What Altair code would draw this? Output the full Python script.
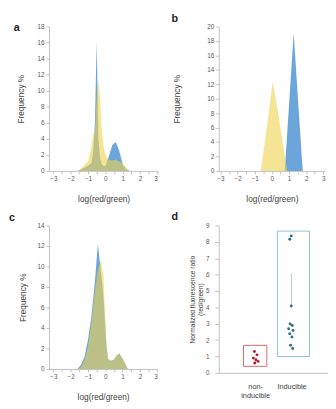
import altair as alt
import pandas as pd

# ---------------- data ----------------
# panel a
a_x = [-3, -1.6, -1.3, -1.0, -0.8, -0.7, -0.6, -0.5, -0.4, -0.3, -0.2, -0.1, 0.0, 0.2, 0.4, 0.6, 0.8, 1.0, 1.2, 1.4, 3]
a_blue = [0, 0, 0.3, 0.6, 1.0, 2.5, 6.0, 16.2, 4.0, 1.5, 0.8, 0.6, 0.6, 1.8, 3.2, 3.6, 2.5, 0.8, 0.2, 0, 0]
a_yellow = [0, 0, 0.5, 1.2, 3.0, 4.6, 5.0, 9.0, 11.5, 9.0, 5.0, 3.0, 2.0, 1.4, 1.3, 1.4, 1.2, 0.9, 0.4, 0, 0]

# panel b
b_x = [-3, -0.65, -0.3, 0.05, 0.4, 0.75, 0.9, 1.27, 1.55, 1.8, 3]
b_blue = [0, 0, 0, 0, 0, 0, 5.5, 19.1, 8.8, 0, 0]
b_yellow = [0, 0, 6.0, 12.4, 7.5, 2.0, 0, 0, 0, 0, 0]

# panel c
c_x = [-3, -1.6, -1.4, -1.2, -1.0, -0.8, -0.6, -0.43, -0.25, -0.1, 0.05, 0.15, 0.3, 0.5, 0.65, 0.8, 1.0, 1.3, 3]
c_blue = [0, 0, 0.4, 1.2, 2.8, 5.2, 8.5, 12.2, 9.5, 7.0, 2.6, 1.0, 0.8, 0.9, 1.3, 1.5, 1.0, 0, 0]
c_yellow = [0, 0, 0.2, 0.9, 2.2, 4.6, 7.6, 9.6, 10.6, 9.0, 3.0, 1.0, 0.8, 0.9, 1.3, 1.5, 1.0, 0, 0]

# panel d
d_groups = ["non-inducible", "inducible"]
d_group_pos = [1, 2]
d_box_x1 = [0.68, 1.61]
d_box_x2 = [1.32, 2.49]
d_box_y1 = [0.4, 1.0]
d_box_y2 = [1.68, 8.66]
red_x = [0.98, 1.05, 0.95, 1.02, 1.08, 0.99]
red_y = [1.3, 1.1, 0.9, 0.8, 0.7, 0.6]
blue_x = [1.99, 1.95, 1.99, 1.96, 2.02, 1.92, 2.04, 1.95, 2.01, 1.97, 2.03]
blue_y = [8.36, 8.16, 4.08, 2.99, 2.89, 2.69, 2.59, 2.39, 2.19, 1.69, 1.49]
whisker_y = [4.1, 6.1]

x_tick_values = [-3, -2.5, -2, -1.5, -1, -0.5, 0, 0.5, 1, 1.5, 2, 2.5, 3]
series = ["1 blue", "2 yellow"]

FONT = "Liberation Sans"
BLUE = "#5b9bd5"
YELLOW = "#f0d24e"
AX = "#bfbfbf"
LBL = "#595959"


def hist_panel(xs, blue, yellow, ymax, xdom, w, h, letter, ldx, ldy, tx):
    df = pd.DataFrame({
        "x": list(xs) + list(xs),
        "v": list(blue) + list(yellow),
        "s": [series[0]] * len(xs) + [series[1]] * len(xs),
    })
    xax = alt.Axis(values=x_tick_values,
                   labelExpr="abs(datum.value % 1) < 0.01 ? format(datum.value, '.0f') : ''",
                   title="log(red/green)", titleX=w / 2, titleY=28, titleBaseline="middle",
                   tickSize=3, labelPadding=2, grid=False, labelOverlap=False, labelBound=False)
    yax = alt.Axis(values=list(range(0, ymax + 1, 2)), title="Frequency %", titleX=tx,
                   titleY=h / 2, titleAngle=-90, titleBaseline="middle", titleAlign="center",
                   tickSize=3, labelPadding=2, grid=False, labelOverlap=False, labelBound=False)
    areas = alt.Chart(df).mark_area(interpolate="linear").encode(
        x=alt.X("x:Q", scale=alt.Scale(domain=xdom, nice=False, zero=False), axis=xax),
        y=alt.Y("v:Q", scale=alt.Scale(domain=[0, ymax], nice=False), axis=yax, stack=False),
        color=alt.Color("s:N", scale=alt.Scale(domain=series, range=[BLUE, YELLOW]), legend=None),
        opacity=alt.Opacity("s:N", scale=alt.Scale(domain=series, range=[0.9, 0.6]), legend=None),
        order=alt.Order("s:N"),
    )
    lt = alt.Chart(pd.DataFrame({"t": [letter]})).mark_text(
        fontWeight="bold", fontSize=11, font=FONT, color="#222222", align="center", baseline="middle"
    ).encode(text="t:N", x=alt.value(ldx), y=alt.value(ldy))
    return alt.layer(areas, lt).properties(width=w, height=h)


pa = hist_panel(a_x, a_blue, a_yellow, 18, [-3.25, 3.05], 112, 148, "a", -33, 2, -29)
pb = hist_panel(b_x, b_blue, b_yellow, 20, [-3.1, 3.1], 109, 148, "b", -45, -8, -43)
pc = hist_panel(c_x, c_blue, c_yellow, 14, [-3.25, 3.0], 111, 147, "c", -38, -8, -27)

# panel d
boxes = pd.DataFrame({"g": d_groups, "x1": d_box_x1, "x2": d_box_x2, "y1": d_box_y1, "y2": d_box_y2})
pts = pd.DataFrame({"x": red_x + blue_x, "y": red_y + blue_y,
                    "g": ["non-inducible"] * len(red_x) + ["inducible"] * len(blue_x)})
wh = pd.DataFrame({"x": [2, 2], "y": whisker_y})

dw, dh = 112, 151
dxs = alt.Scale(domain=[0, 3], nice=False)
dys = alt.Scale(domain=[0, 9], nice=False)
dxax = alt.Axis(values=d_group_pos,
                labelExpr="datum.value == 1 ? ['non-', 'inducible'] : 'Inducible'",
                ticks=False, labelPadding=14, labelBaseline="middle", labelFontSize=7.5,
                labelColor="#404040", title=None, grid=False, labelOverlap=False)
dyax = alt.Axis(values=list(range(0, 10)), title=["Normalized fluorescence ratio", "(red/green)"],
                titleX=-27, titleY=dh / 2, titleAngle=-90, titleAlign="center",
                titleBaseline="middle", titleFontSize=6.8, tickSize=4, labelPadding=6,
                grid=False, labelOverlap=False, labelBound=False)

box_layer = alt.Chart(boxes).mark_rect(fillOpacity=0, strokeWidth=1).encode(
    x=alt.X("x1:Q", scale=dxs, axis=dxax), x2="x2:Q",
    y=alt.Y("y1:Q", scale=dys, axis=dyax), y2="y2:Q",
    stroke=alt.Color("g:N", scale=alt.Scale(domain=d_groups, range=["#e06666", "#8fc0cf"]), legend=None))
wh_layer = alt.Chart(wh).mark_line(color="#9fb8c8", strokeWidth=0.8).encode(
    x=alt.X("x:Q", scale=dxs, axis=dxax), y=alt.Y("y:Q", scale=dys, axis=dyax))
pt_layer = alt.Chart(pts).mark_point(filled=True, size=9, opacity=1).encode(
    x=alt.X("x:Q", scale=dxs, axis=dxax), y=alt.Y("y:Q", scale=dys, axis=dyax),
    color=alt.Color("g:N", scale=alt.Scale(domain=d_groups, range=["#b01c2e", "#2f6f85"]), legend=None))
lt_d = alt.Chart(pd.DataFrame({"t": ["d"]})).mark_text(
    fontWeight="bold", fontSize=11, font=FONT, color="#222222", align="center", baseline="middle"
).encode(text="t:N", x=alt.value(-45), y=alt.value(-9))
pd_ = alt.layer(box_layer, wh_layer, pt_layer, lt_d).properties(width=dw, height=dh)

chart = alt.concat(pa, pb, pc, pd_, columns=2, bounds="flush",
                   spacing={"row": 56, "column": 62}).properties(
    padding={"left": 0, "top": 0, "right": 0, "bottom": 0}
).resolve_scale(x="independent", y="independent", color="independent",
                stroke="independent", opacity="independent"
).configure_view(stroke=None).configure_axis(
    labelFont=FONT, titleFont=FONT, labelFontSize=6.5, titleFontSize=8.5,
    labelColor=LBL, titleColor="#404040", titleFontWeight="normal",
    domainColor=AX, tickColor=AX, domainWidth=1, tickWidth=1, labelOverlap=False
)

chart.save("out.html", embed_options={"renderer": "svg", "actions": False})
